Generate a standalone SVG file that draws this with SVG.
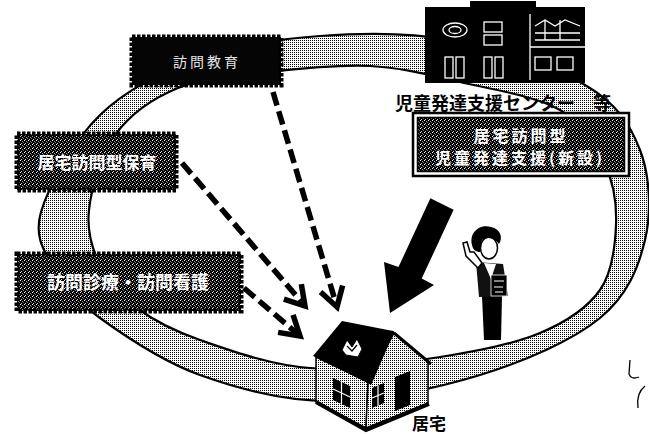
<svg xmlns="http://www.w3.org/2000/svg" width="649" height="434" viewBox="0 0 649 434">
  <defs>
    <!-- light halftone used for the ring band and house walls -->
    <pattern id="ht" width="2" height="2" patternUnits="userSpaceOnUse">
      <rect width="2" height="2" fill="#fff"/>
      <rect width="1" height="1" fill="#000"/>
    </pattern>
    <!-- dark halftone used inside the service boxes -->
    <pattern id="dk" width="4" height="4" patternUnits="userSpaceOnUse">
      <rect width="4" height="4" fill="#000"/>
      <rect x="0" y="0" width="1" height="1" fill="#fff"/>
      <rect x="2" y="1" width="1" height="1" fill="#999"/>
      <rect x="1" y="3" width="1" height="1" fill="#ccc"/>
      <rect x="3" y="2" width="1" height="1" fill="#777"/>
    </pattern>
    <marker id="chev" markerUnits="userSpaceOnUse" viewBox="-26 -18 32 36" refX="0" refY="0" markerWidth="32" markerHeight="36" orient="auto" overflow="visible">
      <path d="M-19 -11.5 L0 0 L-19 11.5" fill="none" stroke="#000" stroke-width="5.5"/>
    </marker>
    <style>
      .jp { font-family: "Noto Sans CJK JP", "Noto Sans CJK SC", sans-serif; }
      .boxtxt { fill: #fff; font-weight: bold; text-anchor: middle; dominant-baseline: central; }
      .dotted { stroke: #000; stroke-width: 5; stroke-dasharray: 3.5 1.5; }
      .dash { fill: none; stroke: #000; stroke-width: 5.5; stroke-dasharray: 14 6; marker-end: url(#chev); }
    </style>
  </defs>

  <rect width="649" height="434" fill="#fff"/>

  <!-- ring band -->
  <g id="ring">
    <path fill="url(#ht)" fill-rule="evenodd" stroke="#000" stroke-width="2.2"
      d="M41 212 C48.5 186.17 73.5 140.67 100 115 C126.5 89.33 163.33 71.17 200 58 C236.67 44.83 278.33 39 320 36 C361.67 33 405.83 31.83 450 40 C494.17 48.17 553.33 66.67 585 85 C616.67 103.33 630 124.17 640 150 C650 175.83 651.67 212 645 240 C638.33 268 627.5 295.5 600 318 C572.5 340.5 525 361.17 480 375 C435 388.83 376.67 401 330 401 C283.33 401 238.33 388.83 200 375 C161.67 361.17 124.17 335.5 100 318 C75.83 300.5 64.83 287.67 55 270 C45.17 252.33 33.5 237.83 41 212 Z
         M89 210 C91.5 188.33 100.17 155.33 115 135 C129.83 114.67 152.17 98.5 178 88 C203.83 77.5 238 75.67 270 72 C302 68.33 338.33 64.33 370 66 C401.67 67.67 428.33 74.67 460 82 C491.67 89.33 535.83 96.17 560 110 C584.17 123.83 595.67 145.83 605 165 C614.33 184.17 616.83 204.17 616 225 C615.17 245.83 612.67 272 600 290 C587.33 308 566.67 321.83 540 333 C513.33 344.17 478.33 351.17 440 357 C401.67 362.83 350 370.83 310 368 C270 365.17 228.83 350 200 340 C171.17 330 153.67 320.5 137 308 C120.33 295.5 108 281.33 100 265 C92 248.67 86.5 231.67 89 210 Z"/>
  </g>

  <!-- service boxes -->
  <g id="box-houmon-kyouiku">
    <rect x="132" y="37" width="149" height="48" fill="#050505" class="dotted"/>
    <text x="207" y="61" class="jp" font-size="14" letter-spacing="3" fill="#e6e6e6" text-anchor="middle" dominant-baseline="central">訪問教育</text>
  </g>

  <g id="box-kyotaku-hoiku">
    <rect x="17" y="134" width="159" height="56" fill="url(#dk)" class="dotted"/>
    <text x="97" y="161" class="jp boxtxt" font-size="17">居宅訪問型保育</text>
  </g>

  <g id="box-houmon-shinryou">
    <rect x="17" y="254" width="224" height="57" fill="url(#dk)" class="dotted"/>
    <text x="128" y="281" class="jp boxtxt" font-size="18">訪問診療・訪問看護</text>
  </g>

  <g id="box-kyotaku-jidou">
    <rect x="413" y="113" width="216" height="63" fill="#fff" stroke="#000" stroke-width="2.5"/>
    <rect x="417.5" y="117.5" width="207" height="54" fill="url(#dk)" stroke="#000" stroke-width="1.5"/>
    <text x="521" y="134.5" class="jp boxtxt" font-size="16" letter-spacing="3">居宅訪問型</text>
    <text x="520" y="156.5" class="jp boxtxt" font-size="16" letter-spacing="3">児童発達支援(新設)</text>
  </g>

  <!-- child development support centre building -->
  <g id="center">
    <rect x="470" y="1" width="66" height="10" fill="#000"/>
    <rect x="425" y="7" width="160" height="76" fill="#000"/>
    <g fill="none" stroke="#fff" stroke-width="1.3">
      <ellipse cx="455" cy="30" rx="12" ry="7"/>
      <ellipse cx="455" cy="30" rx="6" ry="3.5"/>
      <rect x="484" y="22" width="18" height="10"/>
      <rect x="484" y="35" width="18" height="10"/>
      <line x1="530" y1="14" x2="530" y2="80"/>
      <path d="M535 26 L545 20 L555 26 L565 20 L580 26 M535 33 L580 33 M535 40 L580 40 M545 20 L545 40 M560 20 L560 40"/>
      <line x1="530" y1="47" x2="585" y2="47"/>
      <rect x="445" y="57" width="8" height="21"/>
      <rect x="456" y="57" width="8" height="21"/>
      <rect x="484" y="57" width="8" height="21"/>
      <rect x="495" y="57" width="8" height="21"/>
      <rect x="535" y="57" width="16" height="13"/>
      <rect x="557" y="57" width="16" height="13"/>
    </g>
  </g>
  <text id="center-label" x="395" y="102" class="jp" font-size="18" font-weight="bold" fill="#000" dominant-baseline="central">児童発達支援センター　等</text>

  <!-- home -->
  <g id="home">
    <polygon points="316,357 368,382 366,428 316,402" fill="url(#ht)" stroke="#000" stroke-width="1.5"/>
    <polygon points="368,382 394,333 428,361 428,403 366,428" fill="url(#ht)" stroke="#000" stroke-width="1.5"/>
    <polygon points="313,356 342,321 393,331 370,384" fill="#000"/>
    <line x1="394" y1="333" x2="431" y2="364" stroke="#000" stroke-width="3"/>
    <line x1="393" y1="331" x2="370" y2="384" stroke="#000" stroke-width="3"/>
    <polyline points="316,402 366,430 429,404" fill="none" stroke="#000" stroke-width="4"/>
    <!-- dormer -->
    <path d="M342 350 L347 340 L352 347 L357 339 L362 349 L358 357 L346 355 Z" fill="#fff" stroke="#000" stroke-width="1"/>
    <path d="M347 346 L352 351 L357 345" fill="none" stroke="#000" stroke-width="1.2"/>
    <!-- windows and door -->
    <polygon points="333,378 350,386 350,408 333,400" fill="#000"/>
    <path d="M341.5 382 L341.5 404 M333 389 L350 397" stroke="#fff" stroke-width="1.2"/>
    <polygon points="372,388 384,383 384,403 372,408" fill="#000"/>
    <path d="M378 385.5 L378 405.5 M372 398 L384 393" stroke="#fff" stroke-width="1.2"/>
    <polygon points="395,377 410,371 410,405 395,411" fill="#000"/>
  </g>
  <text id="home-label" x="412" y="422" class="jp" font-size="17" font-weight="bold" fill="#000" dominant-baseline="central">居宅</text>

  <!-- visiting staff member -->
  <g id="staff">
    <path d="M482 296 L502 296 L501 340 L484 340 Z" fill="#000"/>
    <path d="M476 262 L503 264 L508 296 L479 297 Z" fill="#111"/>
    <path d="M484 263 L491 279 L496 264 Z" fill="#fff"/>
    <path d="M478 268 L466 256 L463 243 L467 242 L470 252 L474 252 L482 263 Z" fill="#fff" stroke="#000" stroke-width="1.5"/>
    <ellipse cx="489" cy="248" rx="8.5" ry="11" fill="#fff" stroke="#000" stroke-width="1.5"/>
    <path d="M472 245 C469 232 480 224 491 227 C501 229 503 238 499 244 C495 238 488 236 482 240 L480 252 C476 252 473 250 472 245 Z" fill="#000"/>
    <rect x="491" y="275" width="16" height="21" fill="#000" stroke="#fff" stroke-width="0.8"/>
    <path d="M494 281 L504 281 M494 287 L503 287 M495 292 L503 292" stroke="#fff" stroke-width="1.1"/>
  </g>

  <!-- connectors -->
  <g id="connectors">
    <path class="dash" d="M273 92 L337 307"/>
    <path class="dash" d="M182 163 L305 306"/>
    <path class="dash" d="M244 288 L300 336"/>
    <polygon points="430.4,198.2 453.6,209.8 421.7,278.6 434,285 390,313 384,262 398.5,267" fill="#000"/>
  </g>

  <!-- pencil marks in the margin -->
  <g fill="none" stroke="#000" stroke-width="1.3">
    <path d="M630 360 L629 374 Q631 380 639 377"/>
    <path d="M645 386 Q636 393 638 408"/>
  </g>
</svg>
